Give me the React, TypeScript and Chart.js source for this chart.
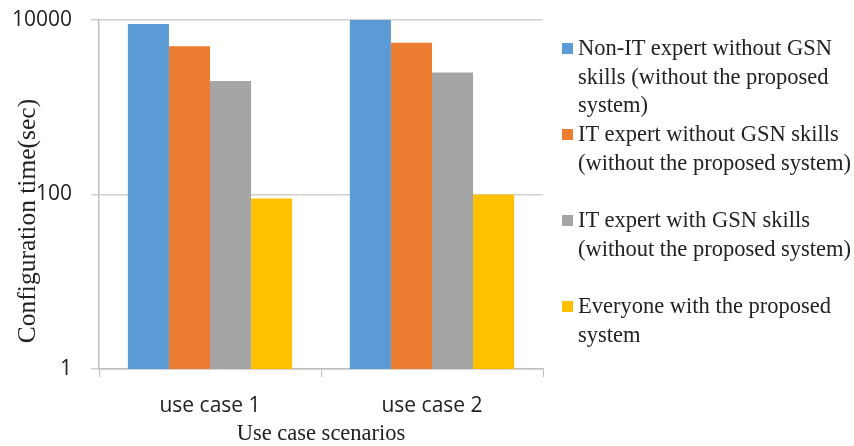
import React, { useEffect, useRef } from "react";
import { Chart, registerables } from "chart.js";

Chart.register(...registerables);

const categories = ["use case 1", "use case 2"];
const seriesNames = [
  "Non-IT expert without GSN skills (without the proposed system)",
  "IT expert without GSN skills (without the proposed system)",
  "IT expert with GSN skills (without the proposed system)",
  "Everyone with the proposed system",
];
const legendLines = [
  ["Non-IT expert without GSN", "skills (without the proposed", "system)"],
  ["IT expert without GSN skills", "(without the proposed system)"],
  ["IT expert with GSN skills", "(without the proposed system)"],
  ["Everyone with the proposed", "system"],
];
const nonItNoGsn = [9000, 10000];
const itNoGsn = [5000, 5500];
const itWithGsn = [2000, 2500];
const everyoneProposed = [90, 100];
const yTicks = [1, 100, 10000];
const yTitle = "Configuration time(sec)";
const xTitle = "Use case scenarios";
const colors = ["#5B9BD5", "#ED7D31", "#A5A5A5", "#FFC000"];

const yTitlePlugin = {
  id: "yTitlePlugin",
  afterDraw(chart: any) {
    const ctx = chart.ctx;
    ctx.save();
    ctx.translate(28, 221);
    ctx.rotate(-Math.PI / 2);
    ctx.font = "25.5px 'Liberation Serif'";
    ctx.fillStyle = "#222";
    ctx.textAlign = "center";
    ctx.textBaseline = "middle";
    ctx.fillText(yTitle, 0, 0);
    ctx.restore();
  },
};

export default function App() {
  const ref = useRef<HTMLCanvasElement>(null);
  useEffect(() => {
    if (!ref.current) return;
    const values = [nonItNoGsn, itNoGsn, itWithGsn, everyoneProposed];
    const chart = new Chart(ref.current, {
      type: "bar",
      data: {
        labels: categories,
        datasets: seriesNames.map((n, i) => ({
          label: n,
          data: values[i],
          backgroundColor: colors[i],
          borderWidth: 0,
          categoryPercentage: 0.74,
          barPercentage: 1.0,
        })),
      },
      plugins: [yTitlePlugin],
      options: {
        responsive: false,
        animation: false,
        layout: { padding: { top: 20, right: 311, left: 0, bottom: 0 } },
        plugins: { legend: { display: false }, tooltip: { enabled: false } },
        scales: {
          x: {
            grid: {
              offset: true,
              drawOnChartArea: false,
              drawTicks: true,
              tickLength: 8,
              color: "#bfbfbf",
            },
            border: { color: "#bfbfbf", width: 1.5 },
            ticks: {
              color: "#222",
              font: { family: "Open Sans", size: 21 },
              padding: 16,
            },
            title: {
              display: true,
              text: xTitle,
              color: "#222",
              font: { family: "Liberation Serif", size: 22.5 },
              padding: { top: 0, bottom: -2 },
            },
            afterFit: (s: any) => {
              s.height = 77;
              s.paddingLeft = 0;
              s.paddingRight = 0;
            },
          },
          y: {
            type: "logarithmic",
            min: 1,
            max: 10000,
            afterBuildTicks: (s: any) => {
              s.ticks = yTicks.map((v) => ({ value: v }));
            },
            grid: { color: "#d0d0d0", lineWidth: 1.5, tickLength: 8 },
            border: { color: "#bfbfbf", width: 1.5 },
            ticks: {
              color: "#222",
              font: { family: "Open Sans", size: 21 },
              padding: 19,
              callback: (v: any) => String(v),
            },
            afterFit: (s: any) => {
              s.width = 99;
              s.paddingTop = 0;
              s.paddingBottom = 0;
            },
          },
        },
      },
    });
    return () => chart.destroy();
  }, []);

  return (
    <div style={{ position: "absolute", left: 0, top: 0, width: 854, height: 446, background: "#fff" }}>
      <canvas ref={ref} width={854} height={446} style={{ position: "absolute", left: 0, top: 0 }} />
      {legendLines.map((lines, i) => (
        <div
          key={i}
          style={{
            position: "absolute",
            left: 562,
            top: 34 + i * 86,
            fontFamily: "Liberation Serif",
            fontSize: 22.5,
            lineHeight: "28.5px",
            color: "#222",
            whiteSpace: "nowrap",
          }}
        >
          <span
            style={{
              position: "absolute",
              left: 0,
              top: 9,
              width: 11,
              height: 11,
              background: colors[i],
            }}
          />
          <div style={{ marginLeft: 16 }}>
            {lines.map((l, j) => (
              <div key={j}>{l}</div>
            ))}
          </div>
        </div>
      ))}
    </div>
  );
}
